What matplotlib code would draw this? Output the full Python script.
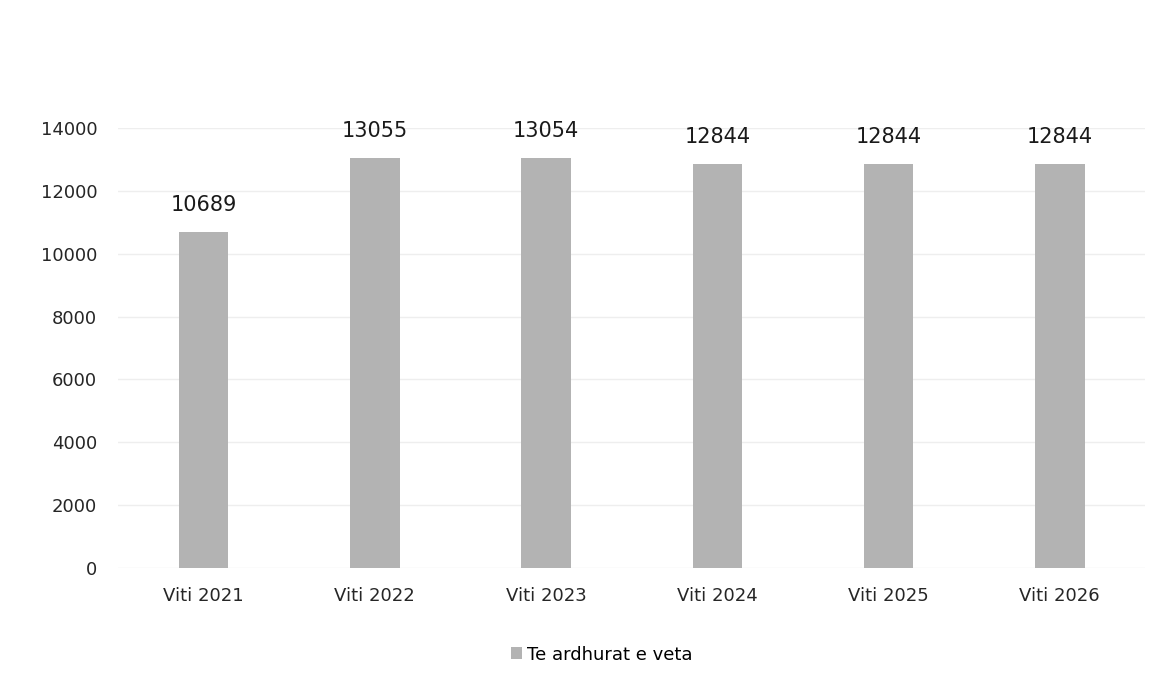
import numpy as np
import matplotlib as mpl
mpl.use('agg')
import matplotlib.pyplot as plt

# data
categories = ['Viti 2021', 'Viti 2022', 'Viti 2023', 'Viti 2024', 'Viti 2025', 'Viti 2026']
values = [10689, 13055, 13054, 12844, 12844, 12844]
series_name = 'Te ardhurat e veta'
yticks = [0, 2000, 4000, 6000, 8000, 10000, 12000, 14000]

plt.rcParams['font.family'] = ['DejaVu Sans']

fig = plt.figure(figsize=(11.57, 6.89), dpi=100)
ax = fig.add_axes([0.102, 0.176, 0.888, 0.638])

x = np.arange(len(categories))
bars = ax.bar(x, values, width=0.29, color='#b3b3b3', label=series_name, zorder=2)

for b, v in zip(bars, values):
    ax.text(b.get_x() + b.get_width() / 2, v + 550, str(v),
            ha='center', va='bottom', fontsize=15, color='#1a1a1a')

ax.set_xlim(-0.5, len(categories) - 0.5)
ax.set_ylim(0, 14000)
ax.set_yticks(yticks)
ax.set_xticks(x)
ax.set_xticklabels(categories, fontsize=13, color='#262626')
ax.tick_params(axis='y', labelsize=13, colors='#262626', length=0, pad=15)
ax.tick_params(axis='x', length=0, pad=14)
ax.grid(axis='y', color='#eeeeee', linewidth=1, zorder=0)
for s in ax.spines.values():
    s.set_visible(False)

fig.legend(handles=[bars], labels=[series_name], loc='center',
           bbox_to_anchor=(0.52, 0.05), frameon=False, fontsize=13,
           handlelength=0.6, handleheight=0.6, handletextpad=0.3)

fig.savefig('out.png', dpi=100)
